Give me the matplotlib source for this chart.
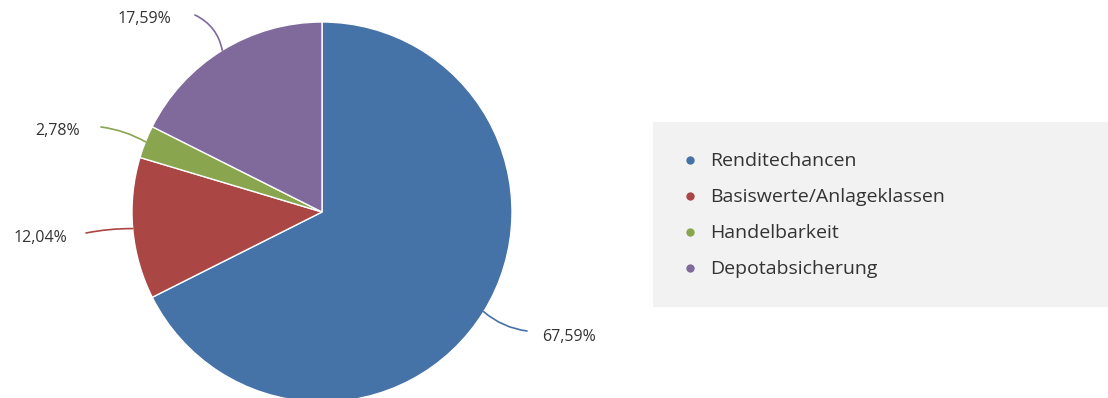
import matplotlib
matplotlib.use("Agg")
import matplotlib.pyplot as plt
from matplotlib.patches import Rectangle
import numpy as np

categories = ["Renditechancen", "Basiswerte/Anlageklassen", "Handelbarkeit", "Depotabsicherung"]
values = [67.59, 12.04, 2.78, 17.59]
labels = ["67,59%", "12,04%", "2,78%", "17,59%"]
colors = ["#4572A7", "#AA4643", "#89A54E", "#80699B"]

W, H = 1108, 398
fig = plt.figure(figsize=(W / 100, H / 100), dpi=100)
ax = fig.add_axes([0, 0, 1, 1])
cx, cy, R = 322, 212, 190

def px(x, y):
    return ((x - cx) / R, (cy - y) / R)

wedges, _ = ax.pie(values, colors=colors, startangle=90, counterclock=False,
                   radius=1.0, center=(0, 0),
                   wedgeprops=dict(edgecolor="white", linewidth=1.0))
ax.set_xlim(-cx / R, (W - cx) / R)
ax.set_ylim(-(H - cy) / R, cy / R)
ax.set_aspect("equal")
ax.axis("off")

# connector ends (pixels) and label anchors
line_ends = [(527, 331), (86, 233), (101, 127), (195, 15)]
text_pos = [(542, 337, "left"), (67, 238, "right"), (80, 131, "right"), (171, 19, "right")]
rads = [-0.15, -0.05, -0.1, -0.25]
for w, col, end, tp, lab, rad in zip(wedges, colors, line_ends, text_pos, labels, rads):
    ang = np.deg2rad((w.theta1 + w.theta2) / 2)
    edge = (np.cos(ang), np.sin(ang))
    ax.annotate("", xy=edge, xytext=px(*end),
                arrowprops=dict(arrowstyle="-", color=col, lw=1.2,
                                connectionstyle=f"arc3,rad={rad}",
                                shrinkA=0, shrinkB=0))
    ax.text(*px(tp[0], tp[1]), lab, ha=tp[2], va="center",
            fontsize=11.5, family="Open Sans", color="#333333")

# legend box
x0, y0 = px(653, 307)
x1, y1 = px(W, 122)
ax.add_patch(Rectangle((x0, y0), x1 - x0, y1 - y0, facecolor="#f2f2f2",
                       edgecolor="none", zorder=0.5))
rows_y = [160.5, 196.5, 232.5, 268.5]
for cat, col, y in zip(categories, colors, rows_y):
    ax.plot(*px(690, y - 0.5), marker="o", markersize=6, color=col, markeredgewidth=0, zorder=3)
    ax.text(*px(710, y), cat, ha="left", va="center", fontsize=14,
            family="Open Sans", color="#333333", zorder=3)

fig.savefig("out.png", dpi=100, facecolor="white")
